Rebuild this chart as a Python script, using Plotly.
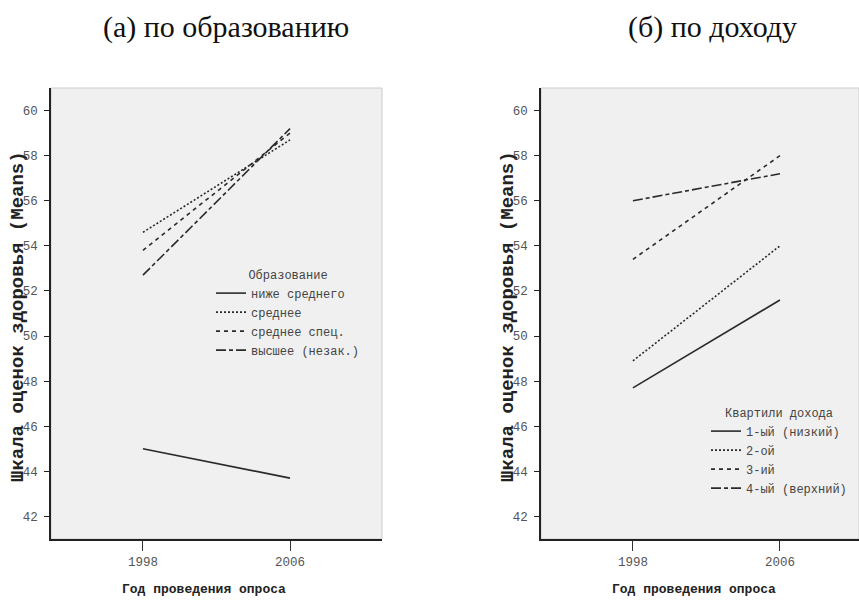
import plotly.graph_objects as go

years = [1998, 2006]
year_labels = ["1998", "2006"]
y_ticks = [42, 44, 46, 48, 50, 52, 54, 56, 58, 60]

edu_labels = ["ниже среднего", "среднее", "среднее спец.", "высшее (незак.)"]
edu_below_secondary = [45.0, 43.7]
edu_secondary = [54.6, 58.7]
edu_vocational = [53.8, 59.0]
edu_higher = [52.7, 59.2]

inc_labels = ["1-ый (низкий)", "2-ой", "3-ий", "4-ый (верхний)"]
inc_q1 = [47.7, 51.6]
inc_q2 = [48.9, 54.0]
inc_q3 = [53.4, 58.0]
inc_q4 = [56.0, 57.2]

dashes = ["solid", "2px,2px", "4px,4px", "10px,3px,4px,3px"]
line_color = "#2a2a2a"

fig = go.Figure()

edu_series = [edu_below_secondary, edu_secondary, edu_vocational, edu_higher]
for name, vals, d in zip(edu_labels, edu_series, dashes):
    fig.add_trace(go.Scatter(x=years, y=vals, mode="lines", name=name,
                             line=dict(color=line_color, width=1.6, dash=d),
                             xaxis="x", yaxis="y", legend="legend"))

inc_series = [inc_q1, inc_q2, inc_q3, inc_q4]
for name, vals, d in zip(inc_labels, inc_series, dashes):
    fig.add_trace(go.Scatter(x=years, y=vals, mode="lines", name=name,
                             line=dict(color=line_color, width=1.6, dash=d),
                             xaxis="x2", yaxis="y2", legend="legend2"))

W, H = 859, 601
ydom = [(H - 539) / H, (H - 88) / H]
x1dom = [51 / W, 382 / W]
x2dom = [541 / W, 1.0]

tickfont = dict(family="Liberation Mono", size=12.5, color="#555555")
xcommon = dict(range=[1993, 2011], tickvals=years, ticktext=year_labels,
               ticks="outside", ticklen=10, tickcolor="#333333", tickwidth=1,
               showline=True, linecolor="#222222", linewidth=1.5,
               showgrid=False, zeroline=False, tickfont=tickfont, fixedrange=True)
ycommon = dict(range=[41, 61], tickvals=y_ticks, ticktext=[str(v) for v in y_ticks],
               ticks="outside", ticklen=5, tickcolor="#222222", tickwidth=1,
               showline=True, linecolor="#222222", linewidth=1.5,
               showgrid=False, zeroline=False, tickfont=tickfont, fixedrange=True,
               ticklabelstandoff=4)

legfont = dict(family="Liberation Mono", size=12, color="#444444")
fig.update_layout(
    width=W, height=H,
    margin=dict(l=0, r=0, t=0, b=0, autoexpand=False),
    paper_bgcolor="white", plot_bgcolor="#f0f0f0",
    xaxis=dict(domain=x1dom, anchor="y", **xcommon),
    yaxis=dict(domain=ydom, anchor="x", **ycommon),
    xaxis2=dict(domain=x2dom, anchor="y2", **{**xcommon, "range": [1993, 2010.3]}),
    yaxis2=dict(domain=ydom, anchor="x2", **ycommon),
    legend=dict(x=211 / W, y=(H - 263) / H, xanchor="left", yanchor="top",
                bgcolor="rgba(0,0,0,0)", font=legfont, tracegroupgap=0,
                title=dict(text="Образование", side="top center", font=legfont)),
    legend2=dict(x=706 / W, y=(H - 401) / H, xanchor="left", yanchor="top",
                 bgcolor="rgba(0,0,0,0)", font=legfont, tracegroupgap=0,
                 title=dict(text="Квартили дохода", side="top center", font=legfont)),
    showlegend=True,
)

for xr, yr in [("x domain", "y domain"), ("x2 domain", "y2 domain")]:
    fig.add_shape(type="rect", xref=xr, yref=yr, x0=0, x1=1, y0=0, y1=1,
                  line=dict(color="#cccccc", width=1), layer="below")

titlefont = dict(family="Liberation Serif", size=30, color="#111111")
axtitlefont = dict(family="Liberation Mono", size=13, color="#222222")
ytitlefont = dict(family="Liberation Mono", size=19, color="#222222")
ann = [
    dict(text="(а) по образованию", x=226 / W, y=(H - 27) / H, font=titlefont),
    dict(text="(б) по доходу", x=712 / W, y=(H - 27) / H, font=titlefont),
    dict(text="<b>Год проведения опроса</b>", x=204 / W, y=(H - 589) / H, font=axtitlefont),
    dict(text="<b>Год проведения опроса</b>", x=694 / W, y=(H - 589) / H, font=axtitlefont),
    dict(text="<b>Шкала оценок здоровья (Means)</b>", x=18 / W, y=(H - 317) / H,
         font=ytitlefont, textangle=-90),
    dict(text="<b>Шкала оценок здоровья (Means)</b>", x=508 / W, y=(H - 317) / H,
         font=ytitlefont, textangle=-90),
]
for a in ann:
    fig.add_annotation(xref="paper", yref="paper", showarrow=False,
                       xanchor="center", yanchor="middle", **a)

fig.write_html("out.html")
